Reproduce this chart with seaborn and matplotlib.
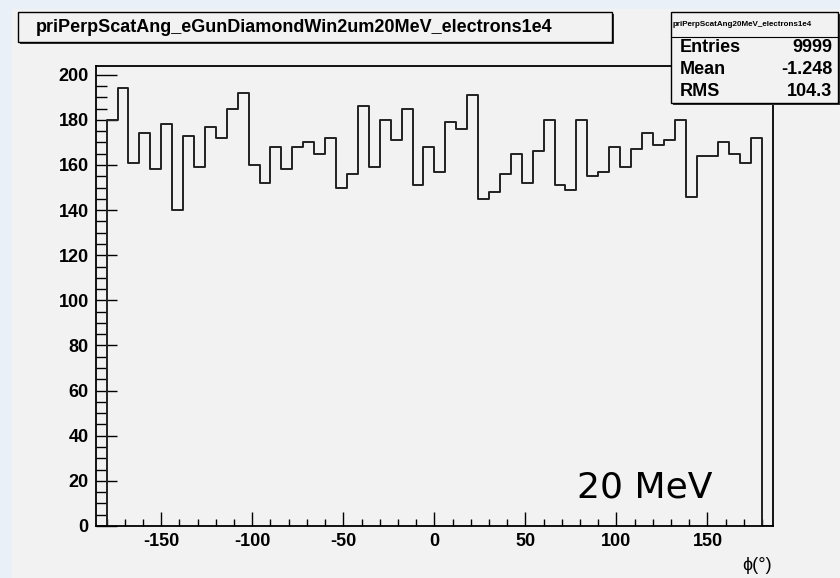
import numpy as np
import pandas as pd
import matplotlib.pyplot as plt
import seaborn as sns
from matplotlib.patches import Rectangle
from matplotlib.ticker import MultipleLocator

# bin contents: 6 degree bins, outer bins (-186..-180, 180..186) empty
bin_edges = list(range(-186, 187, 6))
counts = [0,
          180, 194, 161, 174, 158, 178, 140, 173, 159, 177,
          172, 185, 192, 160, 152, 168, 158, 168, 170, 165,
          172, 150, 156, 186, 159, 180, 171, 185, 151, 168,
          157, 179, 176, 191, 145, 148, 156, 165, 152, 166,
          180, 151, 149, 180, 155, 157, 168, 159, 167, 174,
          169, 171, 180, 146, 164, 164, 170, 165, 161, 172,
          0]
hist_title = "priPerpScatAng_eGunDiamondWin2um20MeV_electrons1e4"
stats_title = "priPerpScatAng20MeV_electrons1e4"
stats_names = ["Entries", "Mean", "RMS"]
stats_values = ["9999", "-1.248", "104.3"]
xticks = np.arange(-150, 151, 50)
yticks = np.arange(0, 201, 20)

df = pd.DataFrame({"phi": np.array(bin_edges[:-1]) + 3, "n": counts})

plt.rcParams['font.family'] = ['Liberation Sans', 'DejaVu Sans']
plt.rcParams['axes.unicode_minus'] = False

W, H = 840, 578
fig = plt.figure(figsize=(W / 100, H / 100), dpi=100, facecolor="#e9f0f7")


def fx(x):
    return x / W


def fy(y):
    return 1 - y / H


canvas_col = "#f2f2f2"
fig.patches.append(Rectangle((fx(12), 0), 1 - fx(12), fy(9), transform=fig.transFigure,
                             facecolor=canvas_col, edgecolor="none", zorder=-1))

ax = fig.add_axes([fx(95.7), fy(526), fx(773) - fx(95.7), fy(65.7) - fy(526)])
ax.set_facecolor(canvas_col)
sns.histplot(data=df, x="phi", weights="n", bins=bin_edges, element="step", fill=False,
             color="#222222", linewidth=1.4, ax=ax)
ax.set_xlim(-186, 186)
ax.set_ylim(0, 204)
ax.set_xlabel("")
ax.set_ylabel("")

ax.set_xticks(xticks)
ax.set_yticks(yticks)
ax.xaxis.set_minor_locator(MultipleLocator(10))
ax.yaxis.set_minor_locator(MultipleLocator(5))
ax.tick_params(axis='x', which='major', direction='in', length=10, width=1, pad=5, labelsize=13)
ax.tick_params(axis='x', which='minor', direction='in', length=5, width=1)
ax.tick_params(axis='y', which='major', direction='in', length=15, width=1, pad=5, labelsize=13)
ax.tick_params(axis='y', which='minor', direction='in', length=8, width=1)
for lbl in ax.get_xticklabels() + ax.get_yticklabels():
    lbl.set_fontweight('bold')
for sp in ax.spines.values():
    sp.set_linewidth(1.3)
    sp.set_color("black")

fig.text(fx(772), fy(565), "ϕ(°)", ha='right', va='center', fontsize=13)
fig.text(fx(577), fy(498), "20 MeV", ha='left', va='baseline', fontsize=26,
         family=['DejaVu Sans'])


def draw_box(x0, y0, x1, y1):
    # ROOT style pave with a dark shadow
    fig.patches.append(Rectangle((fx(x0 + 2), fy(y1 + 2)), fx(x1) - fx(x0), fy(y0) - fy(y1),
                                 transform=fig.transFigure, facecolor="#333333",
                                 edgecolor="none", zorder=3))
    fig.patches.append(Rectangle((fx(x0), fy(y1)), fx(x1) - fx(x0), fy(y0) - fy(y1),
                                 transform=fig.transFigure, facecolor=canvas_col,
                                 edgecolor="black", linewidth=1, zorder=4))


# title box
draw_box(18, 12, 612, 42)
fig.text(fx(36), fy(28), hist_title, ha='left', va='center', fontsize=13,
         fontweight='bold', zorder=5)

# stats box
draw_box(671, 12, 838, 103)
fig.lines.append(plt.Line2D([fx(671), fx(838)], [fy(37), fy(37)], transform=fig.transFigure,
                            color="black", linewidth=0.8, zorder=5))
fig.text(fx(673), fy(25), stats_title, ha='left', va='center', fontsize=5.8,
         fontweight='bold', zorder=5)
for i, (name, val) in enumerate(zip(stats_names, stats_values)):
    yy = 48 + 22 * i
    fig.text(fx(680), fy(yy), name, ha='left', va='center', fontsize=13,
             fontweight='bold', zorder=5)
    fig.text(fx(832), fy(yy), val, ha='right', va='center', fontsize=13,
             fontweight='bold', zorder=5)

fig.savefig("out.png", dpi=100, facecolor=fig.get_facecolor())
